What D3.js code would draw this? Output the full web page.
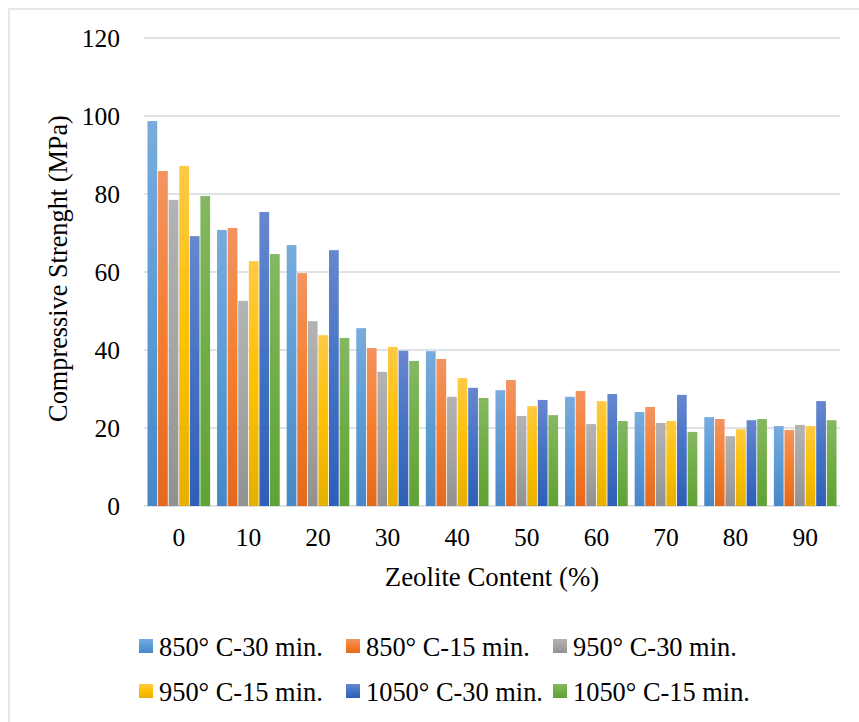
<!DOCTYPE html>
<html>
<head>
<meta charset="utf-8">
<script src="https://cdn.jsdelivr.net/npm/d3@7"></script>
<style>
  html, body { margin: 0; padding: 0; background: #fff; }
  svg { display: block; }
</style>
</head>
<body>
<svg id="chart" width="859" height="722"></svg>
<script>
const categories = ["0", "10", "20", "30", "40", "50", "60", "70", "80", "90"];
const seriesNames = ["850° C-30 min.", "850° C-15 min.", "950° C-30 min.", "950° C-15 min.", "1050° C-30 min.", "1050° C-15 min."];
const s850_30  = [98.7, 70.8, 66.9, 45.6, 39.7, 29.7, 28.0, 24.1, 22.8, 20.5];
const s850_15  = [85.9, 71.3, 59.7, 40.5, 37.7, 32.3, 29.5, 25.4, 22.3, 19.5];
const s950_30  = [78.5, 52.6, 47.4, 34.4, 28.0, 23.1, 21.0, 21.3, 17.9, 20.8];
const s950_15  = [87.2, 62.8, 43.8, 40.8, 32.8, 25.6, 26.9, 21.8, 19.7, 20.5];
const s1050_30 = [69.2, 75.4, 65.6, 39.8, 30.3, 27.2, 28.7, 28.5, 22.0, 26.9];
const s1050_15 = [79.5, 64.6, 43.1, 37.2, 27.7, 23.3, 21.8, 19.0, 22.3, 22.0];
const yTicks = [0, 20, 40, 60, 80, 100, 120];
const seriesValues = [s850_30, s850_15, s950_30, s950_15, s1050_30, s1050_15];
// gradient stops: top (light), middle (base), bottom (dark)
const seriesColors = [
  ["#79ABDD", "#5B9BD5", "#4787C7"],
  ["#F39461", "#F47E2E", "#E4691C"],
  ["#B3B3B3", "#A5A5A5", "#919191"],
  ["#FFCA45", "#FFC000", "#E5B000"],
  ["#6787CF", "#4472C4", "#2E5EB7"],
  ["#85B862", "#70AD47", "#60A236"]
];
const FONT = '"Liberation Serif", "Times New Roman", Times, serif';

const svg = d3.select("#chart");
const plot = { left: 144, right: 840, top: 38, bottom: 506 };

// outer frame
svg.append("rect").attr("x", 9).attr("y", 9).attr("width", 900).attr("height", 900)
  .attr("fill", "none").attr("stroke", "#E3E6EA").attr("stroke-width", 2);

const defs = svg.append("defs");
seriesColors.forEach((c, i) => {
  const g = defs.append("linearGradient").attr("id", "grad" + i)
    .attr("x1", 0).attr("y1", 0).attr("x2", 0).attr("y2", 1);
  g.append("stop").attr("offset", "0%").attr("stop-color", c[0]);
  g.append("stop").attr("offset", "50%").attr("stop-color", c[1]);
  g.append("stop").attr("offset", "100%").attr("stop-color", c[2]);
});

const x0 = d3.scaleBand().domain(categories).range([plot.left, plot.right])
  .paddingInner(0.1).paddingOuter(0.05);
const x1 = d3.scaleBand().domain(d3.range(seriesNames.length)).range([0, x0.bandwidth()])
  .paddingInner(0.08).paddingOuter(0);
const y = d3.scaleLinear().domain([0, 120]).range([plot.bottom, plot.top]);

// gridlines
svg.append("g").selectAll("line").data(yTicks).join("line")
  .attr("x1", plot.left).attr("x2", plot.right)
  .attr("y1", d => y(d)).attr("y2", d => y(d))
  .attr("stroke", "#DFE3E8").attr("stroke-width", 2);

// y axis labels
const yAxis = d3.axisLeft(y).tickValues(yTicks).tickSize(0).tickPadding(24);
const gy = svg.append("g").attr("transform", `translate(${plot.left},0)`).call(yAxis)
  .attr("font-family", FONT).attr("font-size", 25.5);
gy.select(".domain").remove();
gy.selectAll("text").attr("fill", "#000");

// bars
const groups = svg.append("g").selectAll("g").data(categories).join("g")
  .attr("transform", d => `translate(${x0(d)},0)`);
groups.selectAll("rect").data((d, ci) => seriesValues.map((s, si) => ({ si, v: s[ci] })))
  .join("rect")
  .attr("x", d => x1(d.si))
  .attr("width", x1.bandwidth())
  .attr("y", d => y(d.v))
  .attr("height", d => y(0) - y(d.v))
  .attr("fill", d => `url(#grad${d.si})`);

// x axis labels
const xAxis = d3.axisBottom(x0).tickSize(0).tickPadding(22);
const gx = svg.append("g").attr("transform", `translate(0,${plot.bottom})`).call(xAxis)
  .attr("font-family", FONT).attr("font-size", 25.5);
gx.select(".domain").remove();
gx.selectAll("text").attr("fill", "#000");

// axis titles
svg.append("text").attr("x", (plot.left + plot.right) / 2).attr("y", 586)
  .attr("text-anchor", "middle").attr("font-family", FONT).attr("font-size", 26.8)
  .attr("fill", "#000").text("Zeolite Content (%)");
svg.append("text").attr("transform", `translate(67,${(115 + 422) / 2}) rotate(-90)`)
  .attr("text-anchor", "middle").attr("font-family", FONT).attr("font-size", 26.3)
  .attr("fill", "#000").text("Compressive Strenght (MPa)");

// legend
const legendPos = [[139, 639], [346, 639], [553, 639], [139, 684], [346, 684], [553, 684]];
const lg = svg.append("g").selectAll("g").data(seriesNames).join("g")
  .attr("transform", (d, i) => `translate(${legendPos[i][0]},${legendPos[i][1]})`);
lg.append("rect").attr("width", 14).attr("height", 14).attr("fill", (d, i) => `url(#grad${i})`);
lg.append("text").attr("x", 20).attr("y", 17).attr("font-family", FONT).attr("font-size", 26.4)
  .attr("fill", "#000").text(d => d);
</script>
</body>
</html>
